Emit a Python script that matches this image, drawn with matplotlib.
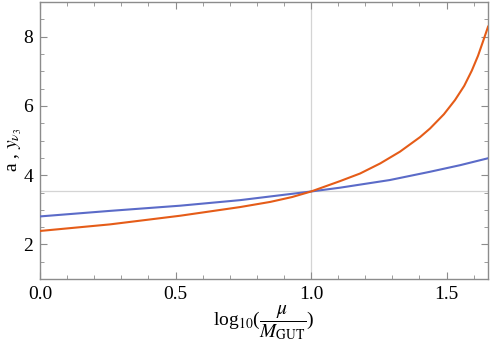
import matplotlib
matplotlib.use('Agg')
from matplotlib import pyplot as plt
from matplotlib.ticker import MultipleLocator, FormatStrFormatter

plt.rcParams['font.family'] = 'serif'
plt.rcParams['font.serif'] = ['Liberation Serif', 'DejaVu Serif']
plt.rcParams['mathtext.fontset'] = 'stix'

# values
x_a = [0.0, 0.258, 0.517, 0.738, 0.85, 0.93, 1.0, 1.107, 1.181, 1.255, 1.328, 1.402,
       1.439, 1.49, 1.531, 1.565, 1.593, 1.616, 1.636, 1.653]
a_vals = [2.39, 2.58, 2.83, 3.08, 3.23, 3.37, 3.53, 3.83, 4.05, 4.34, 4.68, 5.10,
          5.35, 5.76, 6.17, 6.58, 7.02, 7.45, 7.90, 8.29]

x_y = [0.0, 0.258, 0.517, 0.738, 1.0, 1.107, 1.29, 1.439, 1.55, 1.653]
y_vals = [2.81, 2.97, 3.12, 3.28, 3.53, 3.64, 3.86, 4.10, 4.29, 4.49]

x_cross = 1.0
y_cross = 3.54

fig = plt.figure(figsize=(4.91, 3.48), dpi=100)
ax = fig.add_axes([0.0815, 0.198, 0.9125, 0.796])

ax.axvline(x_cross, color='#d4d4d4', lw=0.9, zorder=1)
ax.axhline(y_cross, color='#d4d4d4', lw=0.9, zorder=1)

ax.plot(x_y, y_vals, color='#5b6bc8', lw=1.5, zorder=3)
ax.plot(x_a, a_vals, color='#e55c18', lw=1.5, zorder=3)

ax.set_xlim(0, 1.653)
ax.set_ylim(1, 9)
ax.xaxis.set_major_locator(MultipleLocator(0.5))
ax.xaxis.set_minor_locator(MultipleLocator(0.1))
ax.yaxis.set_major_locator(MultipleLocator(2))
ax.yaxis.set_minor_locator(MultipleLocator(0.5))
ax.xaxis.set_major_formatter(FormatStrFormatter('%.1f'))
ax.yaxis.set_major_formatter(FormatStrFormatter('%d'))

for s in ax.spines.values():
    s.set_color('#8c8c8c')
    s.set_linewidth(1.0)
ax.tick_params(which='both', direction='in', top=True, right=True, color='#8c8c8c',
               labelsize=14, pad=5, labelfontfamily='Liberation Serif')
ax.tick_params(which='major', length=5)
ax.tick_params(which='minor', length=3)

ax.set_xlabel(r'log$_{10}$($\dfrac{\mu}{M_{\rm GUT}}$)', fontsize=14, labelpad=0)
ax.set_ylabel(r'a , $y_{\nu_3}$', fontsize=14)
ax.yaxis.set_label_coords(-0.035, 0.466)

plt.savefig('out.png', dpi=100)
